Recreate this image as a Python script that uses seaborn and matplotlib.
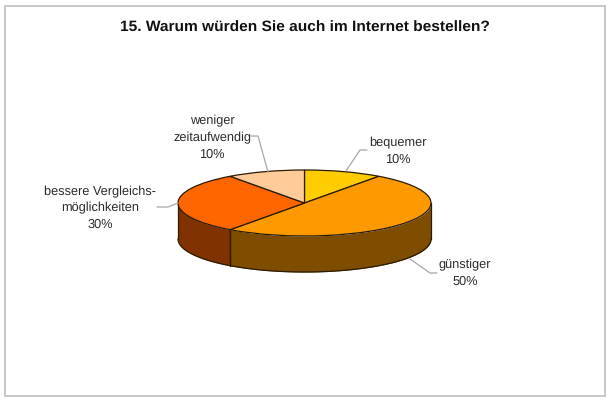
import numpy as np
import matplotlib
matplotlib.use("Agg")
import matplotlib.pyplot as plt
from matplotlib.patches import Rectangle
import seaborn as sns

# --- data ---
categories = ["bequemer", "günstiger", "bessere Vergleichs-\nmöglichkeiten", "weniger\nzeitaufwendig"]
values = [10, 50, 30, 10]
top_colors = ["#FFCC00", "#FF9900", "#FF6600", "#FFCC99"]
side_colors = ["#806600", "#7F4D00", "#803300", "#806650"]
title = "15. Warum würden Sie auch im Internet bestellen?"

# --- layout in pixels of the 614x400 picture ---
W, H = 614, 400
CX, CY = 304.5, 203
RX, RY = 126.5, 33
DEPTH = 36 / RY
EDGE = "#2a1c00"
LEADER = "#a8a8a8"

sns.set_theme(style="white")
plt.rcParams["font.family"] = ["Liberation Sans", "DejaVu Sans"]
plt.rcParams["text.hinting"] = "no_hinting"


def px(x, y):
    """Picture pixels to pie units."""
    return (x - CX) / RX, (CY - y) / RY


fig = plt.figure(figsize=(W / 100, H / 100), dpi=100)
fig.add_artist(Rectangle((4.5 / W, 1 - 396 / H), 600.5 / W, 390.5 / H, transform=fig.transFigure,
                         facecolor="white", edgecolor="#c8c8c8", linewidth=1.4, zorder=-1))
ax = fig.add_axes([0, 0, 1, 1])
ax.patch.set_alpha(0)

palette = sns.color_palette(top_colors)
ax.pie(values, colors=palette, startangle=90, counterclock=False, radius=1,
       wedgeprops={"edgecolor": EDGE, "linewidth": 0.9, "zorder": 3})

# the pie is squashed to an ellipse by dropping the equal aspect
ax.set_aspect("auto")
ax.set_xlim(px(0, 0)[0], px(W, 0)[0])
ax.set_ylim(px(0, H)[1], px(0, 0)[1])

# side wall, only the front half (90..270 deg clockwise from 12 o'clock) shows
edges = np.concatenate([[0], np.cumsum(values)]) / np.sum(values) * 360
for i in range(len(values)):
    a0, a1 = max(edges[i], 90), min(edges[i + 1], 270)
    if a1 <= a0:
        continue
    t = np.radians(np.linspace(a0, a1, 80))
    x, y = np.sin(t), np.cos(t)
    ax.fill_between(x, y, y - DEPTH, color=side_colors[i], linewidth=0, zorder=1)
    ax.plot(x, y - DEPTH, color=EDGE, linewidth=0.9, zorder=2)
    for a in (a0, a1):
        r = np.radians(a)
        ax.plot([np.sin(r)] * 2, [np.cos(r), np.cos(r) - DEPTH], color=EDGE, linewidth=0.9, zorder=2)

# leader lines
leaders = [
    [(346, 171), (360, 150), (367, 150)],
    [(410, 259), (430, 273), (437, 273)],
    [(178, 203), (168, 207), (157, 207)],
    [(268, 172), (258, 136), (251, 136)],
]
for pts in leaders:
    xy = np.array([px(*p) for p in pts])
    ax.plot(xy[:, 0], xy[:, 1], color=LEADER, linewidth=0.9, zorder=4)

# labels
label_pos = [(398, 151), (465, 273), (100, 208), (212, 137.5)]
for cat, val, (lx, ly) in zip(categories, values, label_pos):
    x, y = px(lx, ly)
    ax.text(x, y, f"{cat}\n{val}%", ha="center", va="center", fontsize=9.2,
            color="#2b2b2b", linespacing=1.47, zorder=5)

tx, ty = px(305, 28)
ax.text(tx, ty, title, ha="center", va="center", fontsize=11.15, fontweight="bold", color="#111111")

fig.savefig("out.png", dpi=100)
